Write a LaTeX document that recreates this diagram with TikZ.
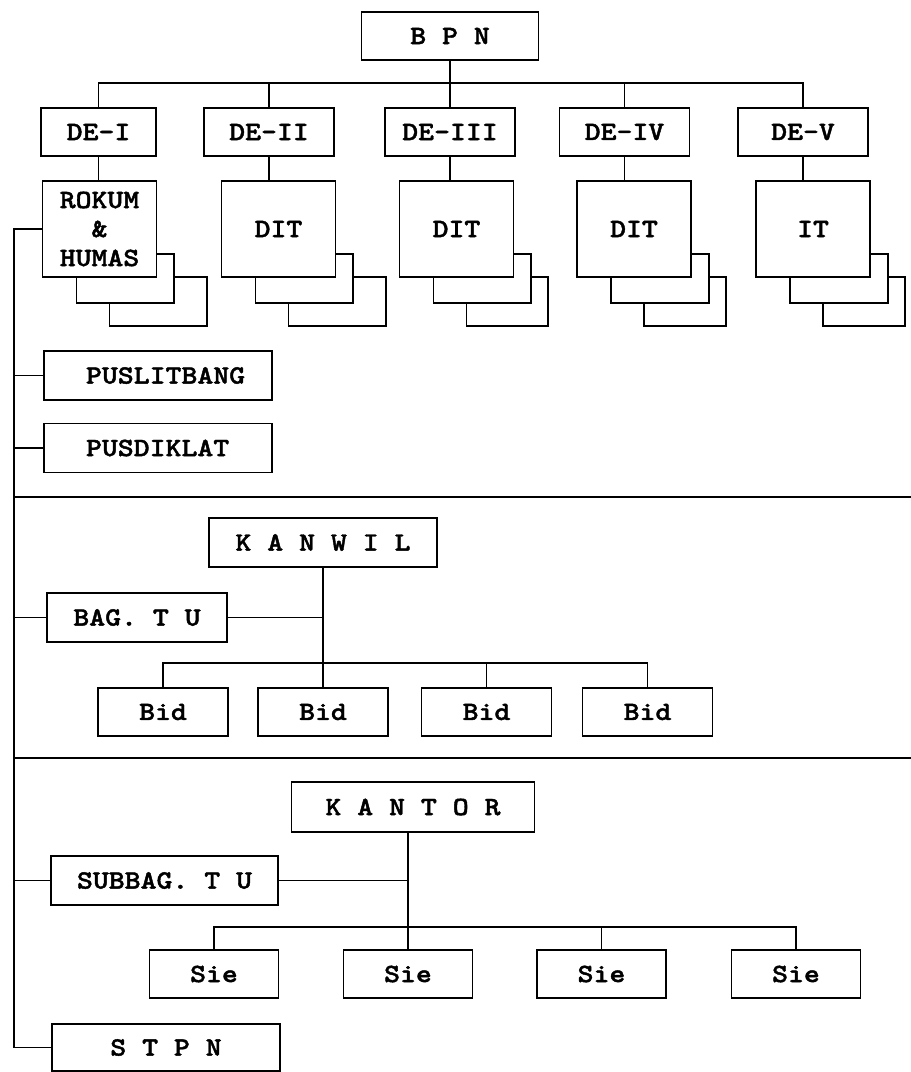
\documentclass[tikz,border=0pt]{standalone}
\usepackage{fontspec}
\newfontfamily\boxfont{lmmonolt10-bold.otf}[FakeStretch=1.15, FakeBold=1.6]

\begin{document}
\begin{tikzpicture}[
      x=0.02cm, y=-0.02cm, line width=0.9pt,
      box/.style={draw, fill=white, inner sep=0pt, align=center, font=\fontsize{15}{16.5}\selectfont\boxfont, minimum height=0.96cm},
      debox/.style={box, minimum width=2.6cm},
      unitbox/.style={box, minimum width=2.28cm, minimum height=1.92cm},
      backbox/.style={draw, fill=white, inner sep=0pt, anchor=north west, minimum width=1.96cm, minimum height=0.98cm},
      widebox/.style={box, minimum width=4.56cm, minimum height=0.98cm},
      pusbox/.style={widebox, text width=4.56cm, align=left},
      smallbox/.style={box, minimum width=2.6cm, minimum height=0.97cm}
    ]
    \useasboundingbox (0,0) rectangle (911,1072);

    \node[box, minimum width=3.54cm] (bpn) at (450,36) {B P N};
    \node[debox, minimum width=2.3cm] (de1) at (98.5,132) {DE-I};
    \node[debox] (de2) at (269,132) {DE-II};
    \node[debox] (de3) at (450,132) {DE-III};
    \node[debox] (de4) at (624.5,132) {DE-IV};
    \node[debox] (de5) at (803,132) {DE-V};

    \foreach \cx/\w/\n in {99.5/1.96/a, 278.5/1.96/b, 456.5/1.64/c, 634/1.64/d, 813/1.64/e} {
      \node[backbox, minimum width=\w cm] (backtwo\n) at ({\cx+9},276) {};
      \node[backbox] (backone\n) at ({\cx-24},253) {};
    }
    \node[unitbox] (rokum) at (99.5,229) {ROKUM\\\&\\HUMAS};
    \node[unitbox] (dit2) at (278.5,229) {DIT};
    \node[unitbox] (dit3) at (456.5,229) {DIT};
    \node[unitbox] (dit4) at (634,229) {DIT};
    \node[unitbox] (it5) at (813,229) {IT};

    \node[pusbox] (pusl) at (158,375.5) {\hspace*{0.84cm}PUSLITBANG};
    \node[pusbox] (pusd) at (158,448) {\hspace*{0.84cm}PUSDIKLAT};

    \node[widebox] (kanwil) at (323,542.5) {K A N W I L};
    \node[widebox, minimum width=3.6cm] (bagtu) at (137,617.5) {BAG. T U};
    \node[smallbox] (bid1) at (163,712) {Bid};
    \node[smallbox] (bid2) at (323,712) {Bid};
    \node[smallbox] (bid3) at (486.5,712) {Bid};
    \node[smallbox] (bid4) at (647.5,712) {Bid};

    \node[widebox, minimum width=4.86cm, minimum height=1cm] (kantor) at (413,807) {K A N T O R};
    \node[widebox, minimum width=4.54cm] (subbag) at (164.5,880.5) {SUBBAG. T U};
    \node[smallbox, minimum width=2.58cm] (sie1) at (214,974) {Sie};
    \node[smallbox, minimum width=2.58cm] (sie2) at (408,974) {Sie};
    \node[smallbox, minimum width=2.58cm] (sie3) at (601.5,974) {Sie};
    \node[smallbox, minimum width=2.58cm] (sie4) at (796,974) {Sie};

    \node[widebox, minimum height=0.94cm] (stpn) at (166,1047.5) {S T P N};

    \coordinate (topbus) at (450,83);
    \coordinate (spine) at (14,0);
    \coordinate (sepa) at (911,497);
    \coordinate (sepb) at (911,758);
    \coordinate (bidbus) at (0,663);
    \coordinate (siebus) at (0,927);

    \draw (bpn.south) -- (de3.north);
    \draw (de1.north) -- (de1 |- topbus) -- (de5 |- topbus) -- (de5.north);
    \draw (de2.north) -- (de2 |- topbus); \draw (de4.north) -- (de4 |- topbus);
    \draw (de1.south) -- (de1 |- rokum.north); \draw (de2.south) -- (de2 |- dit2.north);
    \draw (de3.south) -- (de3 |- dit3.north); \draw (de4.south) -- (de4 |- dit4.north);
    \draw (de5.south) -- (de5 |- it5.north);

    \draw (rokum.west) -- (rokum.west -| spine) -- (stpn.west -| spine) -- (stpn.west);
    \foreach \n in {pusl, pusd, bagtu, subbag} \draw (\n.west) -- (\n.west -| spine);
    \draw (sepa -| spine) -- (sepa); \draw (sepb -| spine) -- (sepb);

    \draw (kanwil.south) -- (bid2.north); \draw (bagtu.east) -- (bagtu.east -| kanwil);
    \draw (bid1.north) -- (bid1 |- bidbus) -- (bid4 |- bidbus) -- (bid4.north);
    \draw (bid3.north) -- (bid3 |- bidbus);

    \draw (kantor.south -| sie2) -- (sie2.north); \draw (subbag.east) -- (subbag.east -| sie2);
    \draw (sie1.north) -- (sie1 |- siebus) -- (sie4 |- siebus) -- (sie4.north);
    \draw (sie3.north) -- (sie3 |- siebus);
  \end{tikzpicture}
\end{document}
